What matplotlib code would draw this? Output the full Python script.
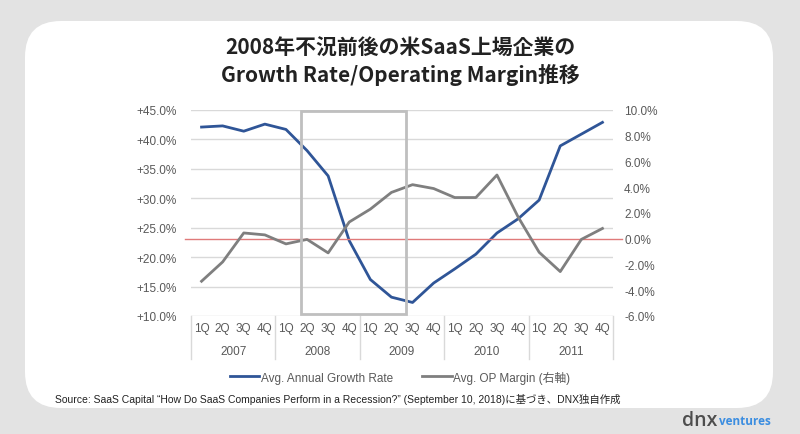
import matplotlib.pyplot as plt
from matplotlib.patches import FancyBboxPatch, Rectangle

plt.rcParams['font.family'] = ['Liberation Sans', 'Noto Sans CJK JP']

# data
years = ['2007', '2008', '2009', '2010', '2011']
quarters = ['1Q', '2Q', '3Q', '4Q']
growth = [42.1, 42.3, 41.4, 42.6, 41.7, 38.1, 33.8, 22.8, 16.2, 13.2,
          12.3, 15.6, 18.0, 20.5, 24.1, 26.5, 29.7, 38.9, 40.9, 42.9]
op_margin = [-3.3, -1.8, 0.45, 0.3, -0.4, -0.05, -1.1, 1.3, 2.3, 3.6,
             4.2, 3.9, 3.2, 3.2, 4.95, 1.7, -1.05, -2.55, -0.05, 0.8]
left_ticks = [10, 15, 20, 25, 30, 35, 40, 45]
right_ticks = [-6, -4, -2, 0, 2, 4, 6, 8, 10]

title = '2008年不況前後の米SaaS上場企業の\nGrowth Rate/Operating Margin推移'
source = ('Source: SaaS Capital \u201cHow Do SaaS Companies Perform in a Recession?\u201d '
          '(September 10, 2018)に基づき、DNX独自作成')

blue = '#2F5597'
grey = '#7F7F7F'
txt = '#595959'

fig = plt.figure(figsize=(8, 4.35), dpi=100)
fig.patch.set_facecolor('#e3e3e3')
card = FancyBboxPatch((25 / 800, 1 - 409 / 435), 748 / 800, 387 / 435,
                      boxstyle='round,pad=0,rounding_size=0.045',
                      transform=fig.transFigure, facecolor='white',
                      edgecolor='none', mutation_aspect=800 / 435, zorder=-10)
fig.patches.append(card)

ax = fig.add_axes([191 / 800, 1 - 317 / 435, 422 / 800, 206 / 435])
ax.set_facecolor('none')
x = list(range(len(growth)))
ax.plot(x, growth, color=blue, lw=2, zorder=4, label='Avg. Annual Growth Rate')
ax.set_xlim(-0.5, 19.5)
ax.set_ylim(10, 45)
ax.set_yticks(left_ticks)
ax.set_yticklabels(['+%.1f%%' % v for v in left_ticks])
ax.grid(axis='y', color='#d9d9d9', lw=1)
ax.set_axisbelow(True)
for s in ax.spines.values():
    s.set_visible(False)
ax.tick_params(axis='y', length=0, labelsize=8.5, labelcolor=txt, pad=10)
ax.set_xticks(x)
ax.set_xticklabels(quarters * len(years))
ax.tick_params(axis='x', length=0, labelsize=8.5, labelcolor=txt, pad=4)

# year labels and separators
for i, yr in enumerate(years):
    ax.text(i * 4 + 1.5, -0.17, yr, transform=ax.get_xaxis_transform(),
            ha='center', va='center', fontsize=8.5, color=txt)
for i in range(len(years) + 1):
    ax.plot([i * 4 - 0.5] * 2, [0, -0.21], transform=ax.get_xaxis_transform(),
            color='#d9d9d9', lw=1, clip_on=False)

ax2 = ax.twinx()
ax2.plot(x, op_margin, color=grey, lw=2, zorder=3, label='Avg. OP Margin (右軸)')
# zero line of the right axis, a bit wider than the plot
ax2.plot([-0.015, 1.022], [0, 0], transform=ax2.get_yaxis_transform(),
         color='#e07a7a', lw=1, zorder=2, clip_on=False)
ax2.set_ylim(-6, 10)
ax2.set_yticks(right_ticks)
ax2.set_yticklabels(['%.1f%%' % v for v in right_ticks])
ax2.tick_params(axis='y', length=0, labelsize=8.5, labelcolor=txt, pad=8)
for s in ax2.spines.values():
    s.set_visible(False)

# highlight box around the recession
ax2.add_patch(Rectangle((4.7, 0.008), 4.97, 0.985, fill=False,
                        transform=ax2.get_xaxis_transform(),
                        edgecolor='#bfbfbf', lw=2, zorder=5))

fig.text(0.5, 1 - 62 / 435, title, ha='center', va='center', fontsize=15,
         fontweight='bold', color='#222222', linespacing=1.25,
         family=['Noto Sans CJK JP', 'DejaVu Sans'])

h1, l1 = ax.get_legend_handles_labels()
h2, l2 = ax2.get_legend_handles_labels()
fig.legend(h1 + h2, l1 + l2, loc='center', bbox_to_anchor=(0.5, 1 - 378 / 435),
           ncol=2, frameon=False, fontsize=8.5, labelcolor=txt,
           handlelength=2.5, handletextpad=0.1, columnspacing=2.5)

fig.text(55 / 800, 1 - 400 / 435, source, ha='left', va='center',
         fontsize=7.5, color='#222222')

fig.text(682 / 800, 1 - 421 / 435, 'dnx', ha='left', va='center', fontsize=14,
         color='#4d4d4d', fontweight='semibold', family=['Open Sans'])
fig.text(719 / 800, 1 - 422 / 435, 'ventures', ha='left', va='center',
         fontsize=8.5, color='#3b8de0', fontweight='bold', family=['Open Sans'])

fig.savefig('out.png', dpi=100, facecolor=fig.get_facecolor())
